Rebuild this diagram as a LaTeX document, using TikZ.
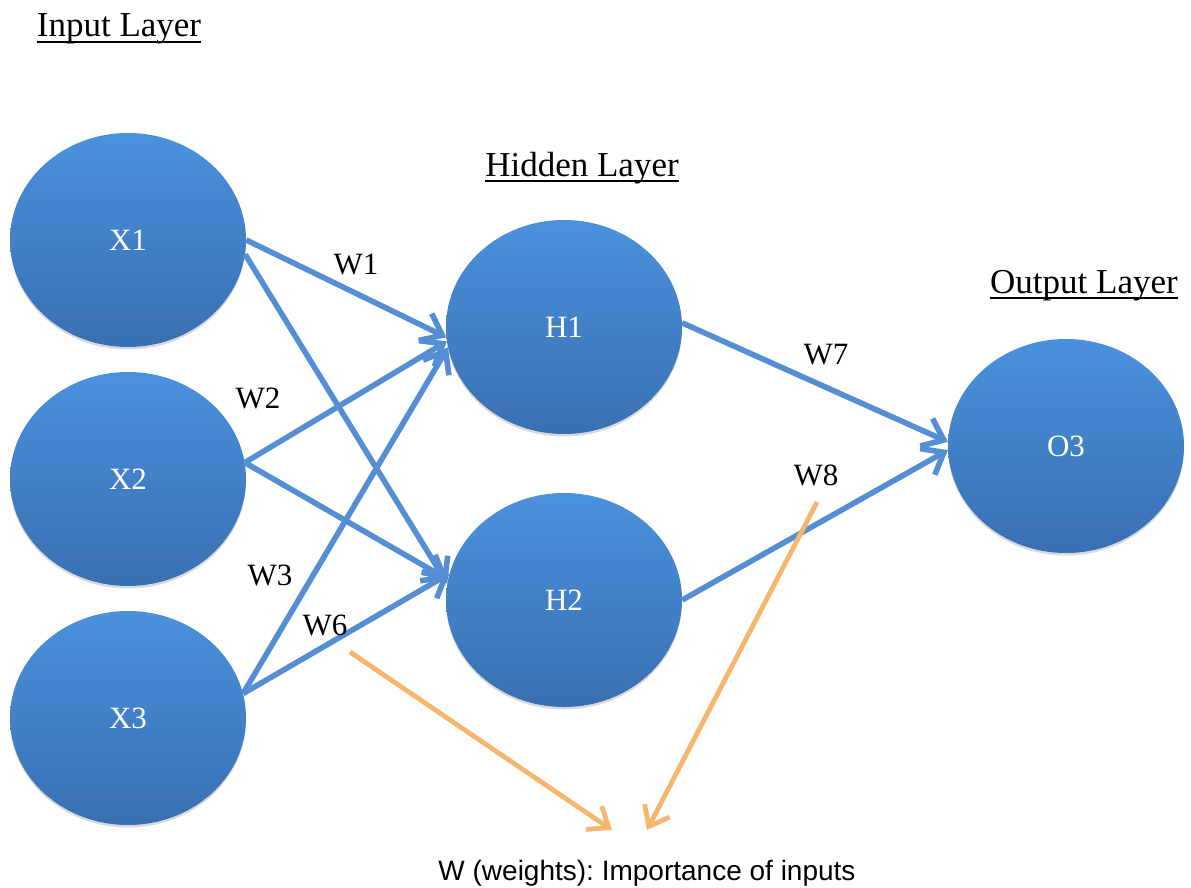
\documentclass[tikz,border=0pt]{standalone}
\usepackage{fontspec}
\setmainfont{Liberation Serif}
\setsansfont{Liberation Sans}
\usetikzlibrary{arrows.meta,shapes.geometric,shadows}
\definecolor{nodetop}{RGB}{74,145,220}
\definecolor{nodebot}{RGB}{57,112,178}
\definecolor{wireblue}{RGB}{86,142,212}
\definecolor{noteorange}{RGB}{246,182,112}
\newcommand\neuronfont{\fontsize{31}{34}\selectfont}
\newcommand\weightfont{\fontsize{31}{34}\selectfont}
\newcommand\titlefont{\fontsize{35}{38}\selectfont}
\newcommand\notefont{\sffamily\fontsize{28}{30}\selectfont}
\frenchspacing
\begin{document}
\begin{tikzpicture}[x=1pt,y=-1pt,
  neuron/.style={ellipse, minimum width=236pt, minimum height=214pt, inner sep=0pt,
    top color=nodetop, bottom color=nodebot, draw=none,
    drop shadow={shadow xshift=0pt, shadow yshift=-2.5pt, opacity=0.15, fill=black}},
  neurontext/.style={text=white, font=\neuronfont, inner sep=0pt},
  wire/.style={draw=wireblue, line width=5.6pt,
    -{Straight Barb[length=19pt,width=30pt]}},
  note/.style={draw=noteorange, line width=4.8pt,
    -{Straight Barb[length=18pt,width=28pt]}},
  wlabel/.style={font=\weightfont, inner sep=0pt},
  layertitle/.style={font=\titlefont, inner sep=0pt, anchor=base},
  titleline/.style={line width=2.4pt}]
\useasboundingbox (0,0) rectangle (1191,888);

% layer titles, underlined
\node[layertitle] (tin)  at (119,37)  {Input Layer};
\node[layertitle] (thid) at (582,176) {Hidden Layer};
\node[layertitle] (tout) at (1084,293) {Output Layer};
\foreach \t in {tin,thid,tout}
  \draw[titleline] ([yshift=-5pt]\t.base west) -- ([yshift=-5pt]\t.base east);

% neurons
\node[neuron] (X1) at (128,240) {};
\node[neuron] (X2) at (128,479) {};
\node[neuron] (X3) at (128,718) {};
\node[neuron] (H1) at (564,327) {};
\node[neuron] (H2) at (564,600) {};
\node[neuron] (O3) at (1066,446) {};
\node[neurontext] at (X1) {X1};
\node[neurontext] at (X2) {X2};
\node[neurontext] at (X3) {X3};
\node[neurontext] at (H1) {H1};
\node[neurontext] at (H2) {H2};
\node[neurontext] at (O3) {O3};

% weighted connections
\draw[wire] (X1.east) -- (H1.185);
\draw[wire] (X1.-7)   -- (H2.172);
\draw[wire] (X2.8)    -- (H1.187);
\draw[wire] (X2.8)    -- (H2.170);
\draw[wire] (X3.12)   -- (H1.190);
\draw[wire] (X3.12)   -- (H2.167);
\draw[wire] (H1.2)    -- (O3.178);
\draw[wire] (H2.east) -- (O3.182);

% weight labels
\node[wlabel] (w1) at (356,265) {W1};
\node[wlabel] (w2) at (258,398) {W2};
\node[wlabel] (w3) at (270,575) {W3};
\node[wlabel] (w6) at (325,625) {W6};
\node[wlabel] (w7) at (826,355) {W7};
\node[wlabel] (w8) at (816,475) {W8};

% explanatory note
\node[font=\notefont, inner sep=0pt, anchor=base] (cap)
  at (647,880) {W (weights): Importance of inputs};
\coordinate (n1) at (350,652);
\coordinate (n2) at (817,502);
\coordinate (c1) at (612,830);
\coordinate (c2) at (647,830);
\draw[note] (n1) -- (c1);
\draw[note] (n2) -- (c2);
\end{tikzpicture}
\end{document}
